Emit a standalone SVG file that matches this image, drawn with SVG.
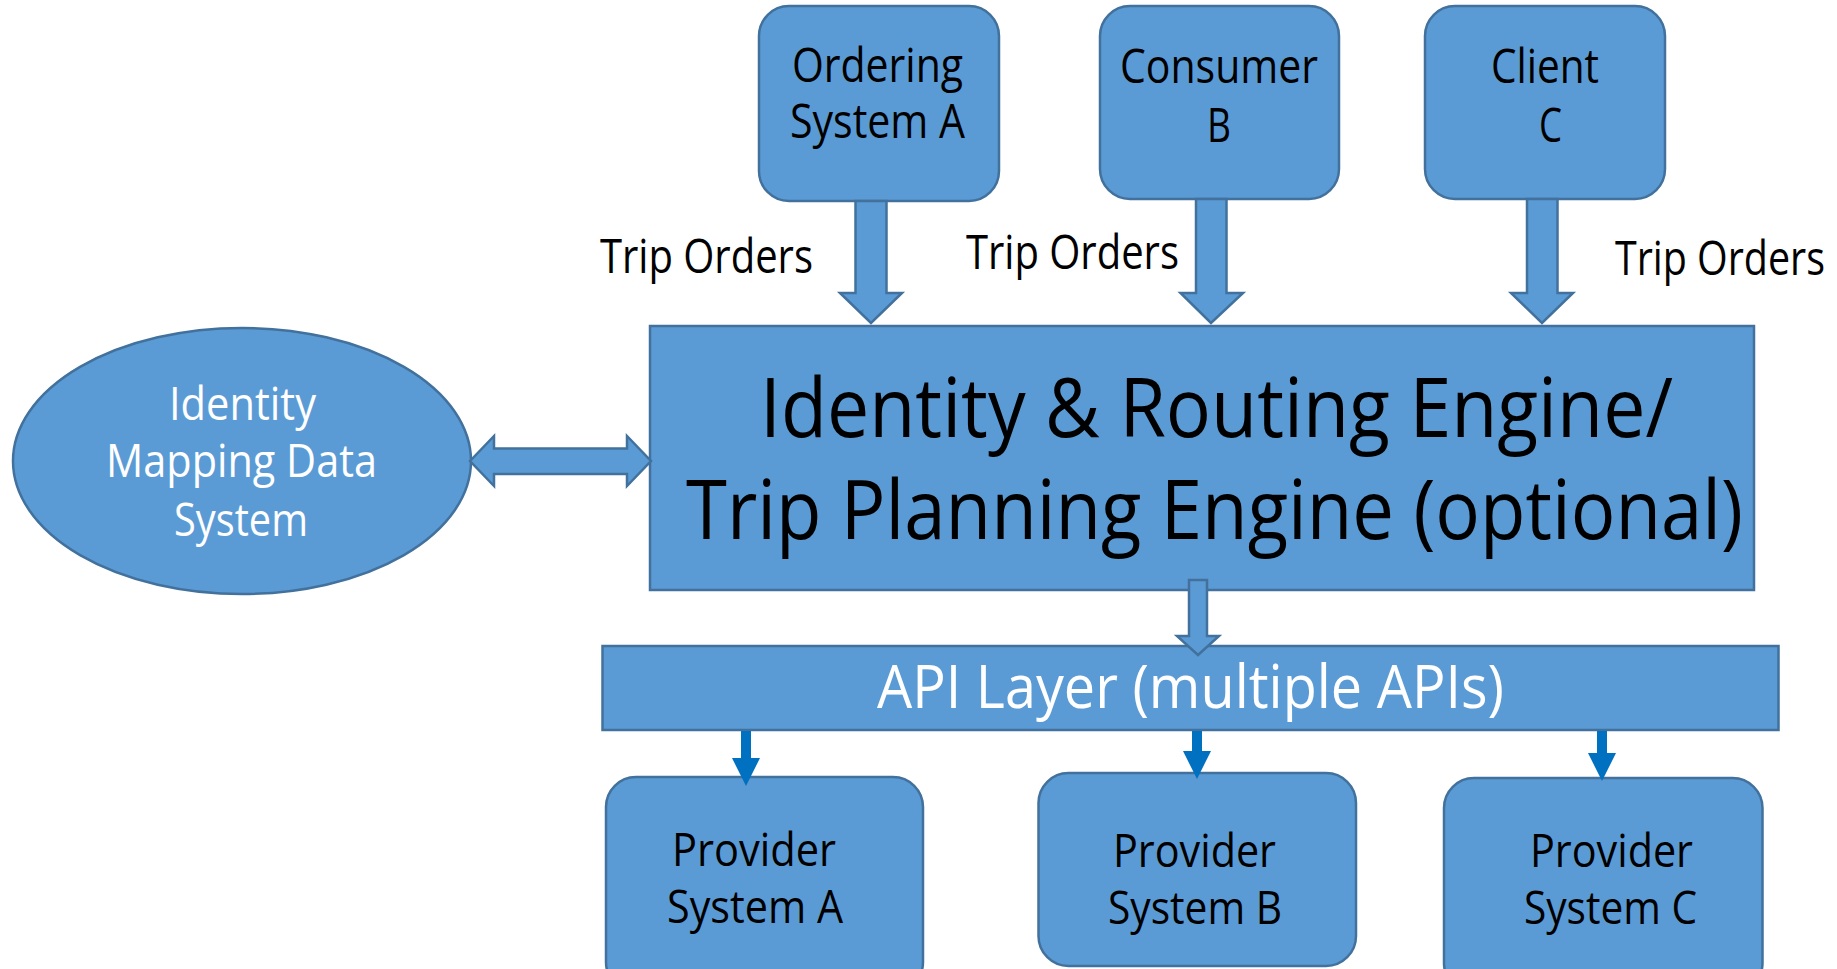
<svg xmlns="http://www.w3.org/2000/svg" width="1837" height="969" viewBox="0 0 1837 969">
  <style>
    .box { fill: #5B9BD5; stroke: #41719C; stroke-width: 2.5; }
    .blk { fill: #5B9BD5; stroke: #41719C; stroke-width: 2.5; stroke-linejoin: miter; }
    .t { font-family: "Open Sans", "Liberation Sans", sans-serif; fill: #000; }
    .w { font-family: "Open Sans", "Liberation Sans", sans-serif; fill: #fff; }
    .s { font-size: 48px; }
    .link { stroke: #0070C0; stroke-width: 10; fill: none; }
    .head { fill: #0070C0; }
  </style>
  <rect width="1837" height="969" fill="#fff"/>

  <g id="trip-labels">
    <text class="t s" x="600" y="273" textLength="213" lengthAdjust="spacingAndGlyphs">Trip Orders</text>
    <text class="t s" x="966" y="269" textLength="213" lengthAdjust="spacingAndGlyphs">Trip Orders</text>
    <text class="t s" x="1615" y="275" textLength="210" lengthAdjust="spacingAndGlyphs">Trip Orders</text>
  </g>

  <g id="ordering-system-a">
    <rect class="box" x="759" y="6" width="240" height="195" rx="30"/>
    <text class="t s" x="792" y="82" textLength="171" lengthAdjust="spacingAndGlyphs">Ordering</text>
    <text class="t s" x="790" y="138" textLength="175" lengthAdjust="spacingAndGlyphs">System A</text>
  </g>

  <g id="consumer-b">
    <rect class="box" x="1100" y="6" width="239" height="193" rx="30"/>
    <text class="t s" x="1120" y="83" textLength="198" lengthAdjust="spacingAndGlyphs">Consumer</text>
    <text class="t s" x="1207" y="142" textLength="24" lengthAdjust="spacingAndGlyphs">B</text>
  </g>

  <g id="client-c">
    <rect class="box" x="1425" y="6" width="240" height="193" rx="30"/>
    <text class="t s" x="1491" y="83" textLength="108" lengthAdjust="spacingAndGlyphs">Client</text>
    <text class="t s" x="1539" y="142" textLength="23" lengthAdjust="spacingAndGlyphs">C</text>
  </g>

  <g id="identity-mapping">
    <ellipse class="box" cx="242" cy="461" rx="229" ry="133"/>
    <text class="w" font-size="46" x="169" y="420" textLength="147" lengthAdjust="spacingAndGlyphs">Identity</text>
    <text class="w" font-size="46" x="106" y="477" textLength="271" lengthAdjust="spacingAndGlyphs">Mapping Data</text>
    <text class="w" font-size="46" x="174" y="536" textLength="134" lengthAdjust="spacingAndGlyphs">System</text>
  </g>

  <g id="routing-engine">
    <rect class="box" x="650" y="326" width="1104" height="264"/>
    <text class="t" font-size="82" x="760" y="437" textLength="913" lengthAdjust="spacingAndGlyphs">Identity &amp; Routing Engine/</text>
    <text class="t" font-size="82" x="686" y="539" textLength="1057" lengthAdjust="spacingAndGlyphs">Trip Planning Engine (optional)</text>
  </g>

  <g id="api-layer">
    <rect class="box" x="602.5" y="646" width="1176" height="84"/>
    <text class="w" font-size="60" x="877" y="708" textLength="627" lengthAdjust="spacingAndGlyphs">API Layer (multiple APIs)</text>
  </g>

  <g id="provider-a">
    <rect class="box" x="606" y="777" width="317" height="215" rx="30"/>
    <text class="t" font-size="46" x="672" y="866" textLength="164" lengthAdjust="spacingAndGlyphs">Provider</text>
    <text class="t" font-size="46" x="667" y="923" textLength="176" lengthAdjust="spacingAndGlyphs">System A</text>
  </g>

  <g id="provider-b">
    <rect class="box" x="1038.5" y="773" width="317.5" height="193" rx="30"/>
    <text class="t" font-size="46" x="1113" y="867" textLength="163" lengthAdjust="spacingAndGlyphs">Provider</text>
    <text class="t" font-size="46" x="1108" y="924" textLength="174" lengthAdjust="spacingAndGlyphs">System B</text>
  </g>

  <g id="provider-c">
    <rect class="box" x="1444" y="778" width="318.5" height="215" rx="30"/>
    <text class="t" font-size="46" x="1530" y="867" textLength="163" lengthAdjust="spacingAndGlyphs">Provider</text>
    <text class="t" font-size="46" x="1524" y="924" textLength="173" lengthAdjust="spacingAndGlyphs">System C</text>
  </g>

  <!-- connectors, drawn over the nodes -->
  <g id="connectors">
    <!-- order flows into the engine -->
    <polygon class="blk" points="855.5,201 886.5,201 886.5,293 902,293 871,323 840,293 855.5,293"/>
    <polygon class="blk" points="1196,199 1226.5,199 1226.5,293 1243,293 1211,323 1180.5,293 1196,293"/>
    <polygon class="blk" points="1527,199 1557.5,199 1557.5,293 1573,293 1542,323 1511,293 1527,293"/>
    <!-- identity mapping exchange -->
    <polygon class="blk" points="470,461 494,436 494,448.5 627,448.5 627,436 651,461 627,486 627,474 494,474 494,486"/>
    <!-- engine to API layer -->
    <polygon class="blk" points="1189,580 1207,580 1207,636 1219,636 1198,655 1177,636 1189,636"/>
    <!-- API layer to providers -->
    <line class="link" x1="746" y1="731" x2="746" y2="760"/>
    <polygon class="head" points="732,758 760,758 746,786"/>
    <line class="link" x1="1197" y1="731" x2="1197" y2="753"/>
    <polygon class="head" points="1183,751 1211,751 1197,779"/>
    <line class="link" x1="1602" y1="731" x2="1602" y2="755"/>
    <polygon class="head" points="1588,753 1616,753 1602,781"/>
  </g>
</svg>
